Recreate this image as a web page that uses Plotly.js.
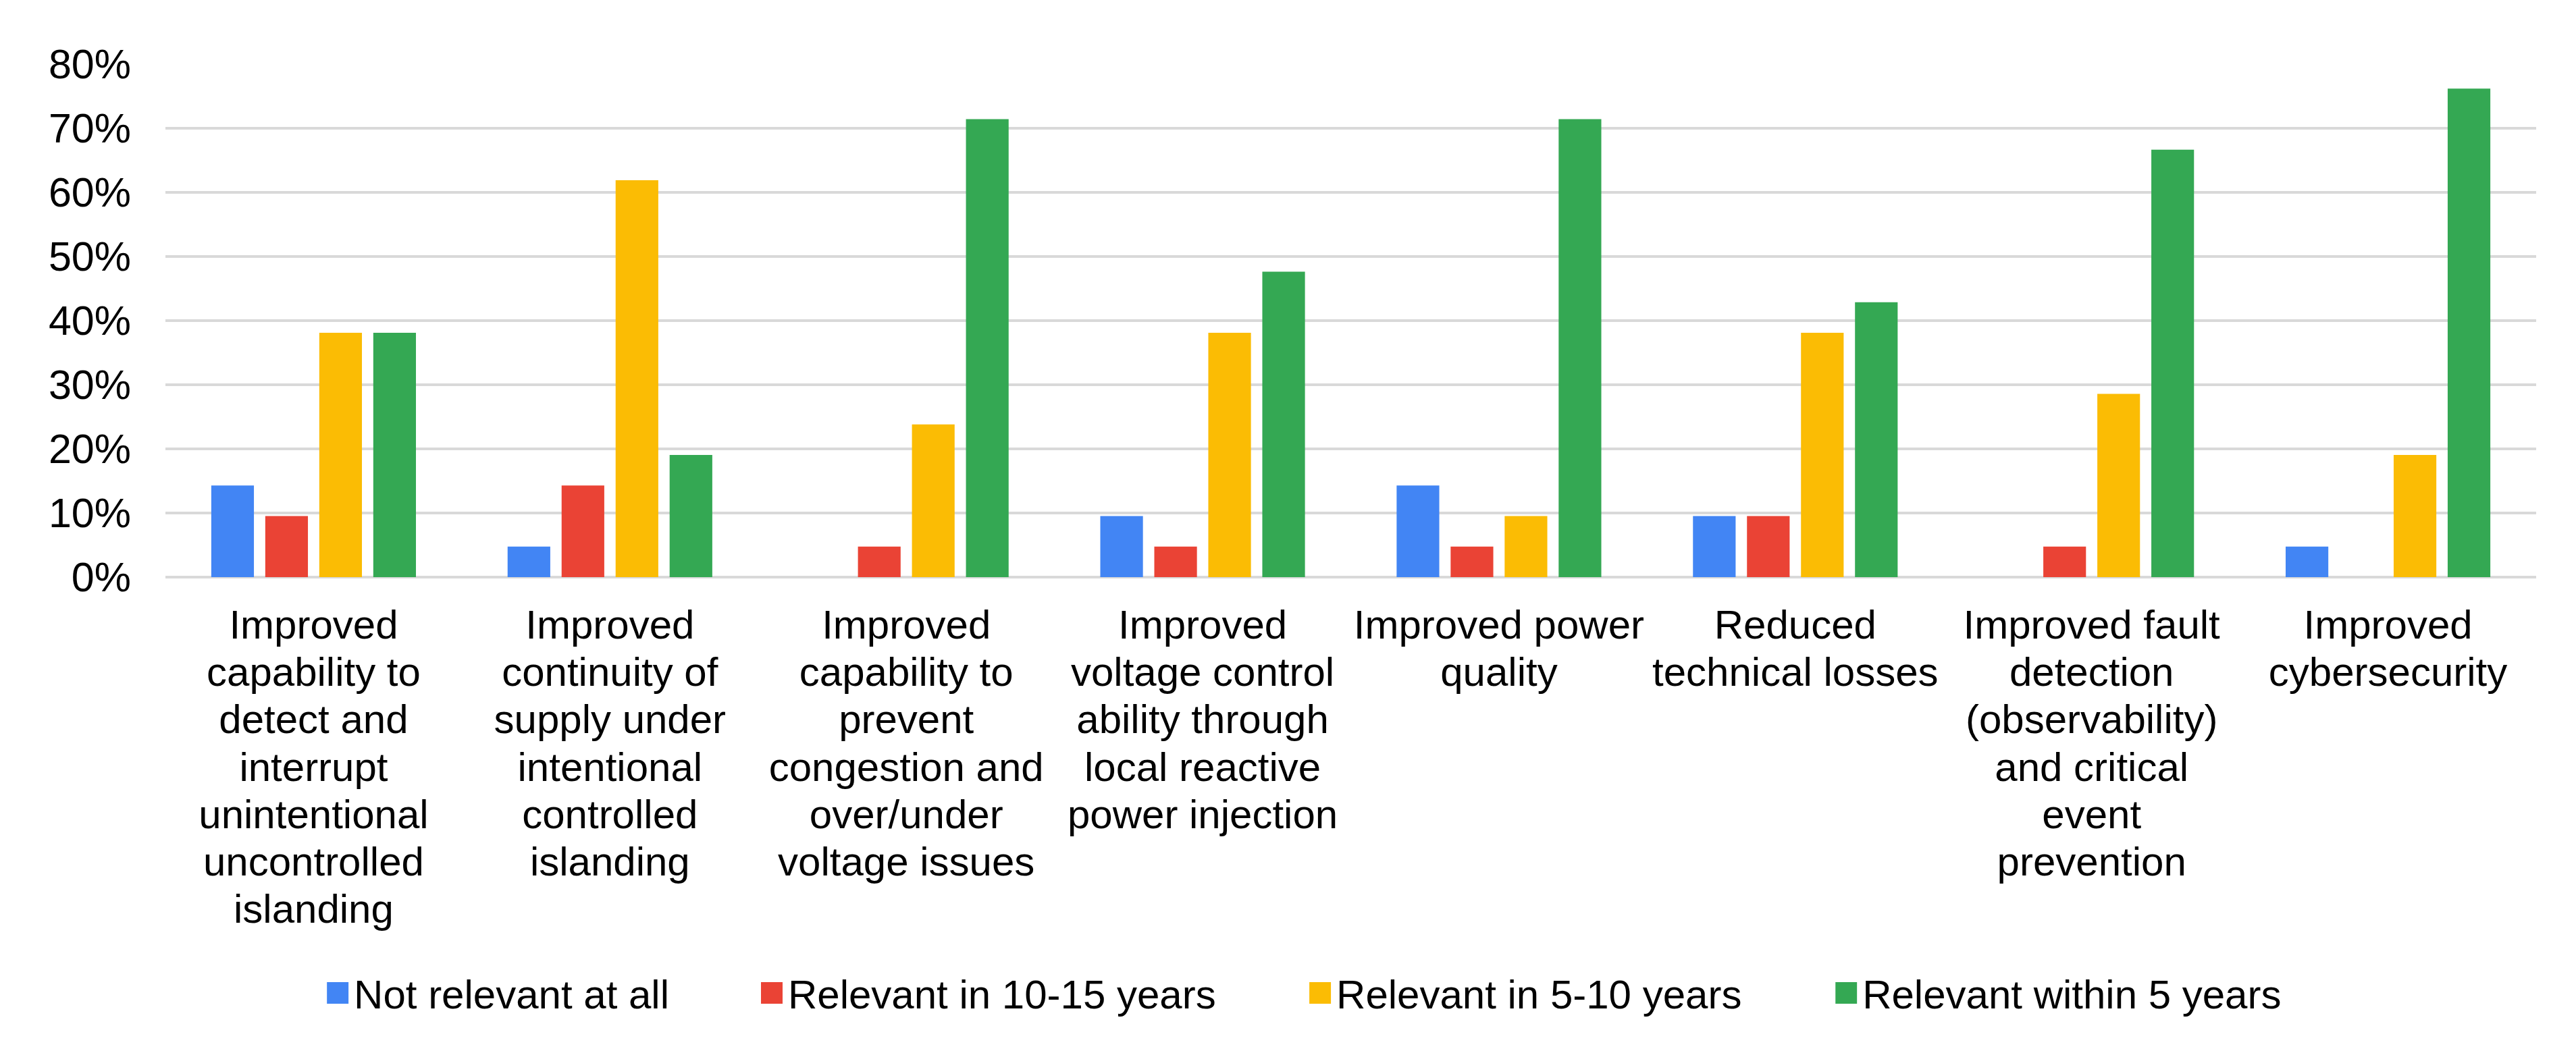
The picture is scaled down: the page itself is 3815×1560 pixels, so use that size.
<!DOCTYPE html>
<html>
<head>
<meta charset="utf-8">
<script src="https://cdn.plot.ly/plotly-3.0.1.min.js"></script>
<style>html,body{margin:0;padding:0;background:#fff;}#chart{width:3815px;height:1560px;}</style>
</head>
<body>
<div id="chart"></div>
<script>
const categories = [
  "Improved<br>capability to<br>detect and<br>interrupt<br>unintentional<br>uncontrolled<br>islanding",
  "Improved<br>continuity of<br>supply under<br>intentional<br>controlled<br>islanding",
  "Improved<br>capability to<br>prevent<br>congestion and<br>over/under<br>voltage issues",
  "Improved<br>voltage control<br>ability through<br>local reactive<br>power injection",
  "Improved power<br>quality",
  "Reduced<br>technical losses",
  "Improved fault<br>detection<br>(observability)<br>and critical<br>event<br>prevention",
  "Improved<br>cybersecurity"
];
const seriesNames = ["Not relevant at all", "Relevant in 10-15 years", "Relevant in 5-10 years", "Relevant within 5 years"];
const notRelevant   = [14.29, 4.76, 0, 9.52, 14.29, 9.52, 0, 4.76];
const relevant10_15 = [9.52, 14.29, 4.76, 4.76, 4.76, 9.52, 4.76, 0];
const relevant5_10  = [38.10, 61.90, 23.81, 38.10, 9.52, 38.10, 28.57, 19.05];
const within5       = [38.10, 19.05, 71.43, 47.62, 71.43, 42.86, 66.67, 76.19];
const yTickVals = [0, 10, 20, 30, 40, 50, 60, 70, 80];
const yTickText = yTickVals.map(v => v + "%");

const colors = ["#4285F4", "#EA4335", "#FBBC04", "#34A853"];
const values = [notRelevant, relevant10_15, relevant5_10, within5];
const legendIds = ["legend", "legend2", "legend3", "legend4"];
const legendX = [0.0681, 0.2512, 0.4825, 0.7044];

const traces = values.map((v, i) => ({
  type: "bar",
  name: seriesNames[i],
  x: categories,
  y: v,
  marker: {color: colors[i]},
  legend: legendIds[i],
  hoverinfo: "none"
}));

const font = {family: "Liberation Sans, Arial, sans-serif", color: "#000"};
const layout = {
  width: 3815, height: 1560,
  margin: {l: 245, r: 59, t: 95, b: 705},
  paper_bgcolor: "#fff", plot_bgcolor: "#fff",
  barmode: "group", bargap: 0.271, bargroupgap: 0.21,
  font: Object.assign({size: 60}, font),
  showlegend: true,
  xaxis: {
    type: "category", tickangle: 0, ticks: "", showgrid: false, showline: false,
    tickfont: Object.assign({size: 60}, font), ticklabelstandoff: 30, automargin: false
  },
  yaxis: {
    range: [0, 80], tickmode: "array", tickvals: yTickVals, ticktext: yTickText, ticks: "",
    showgrid: true, gridcolor: "#d9d9d9", gridwidth: 4,
    zeroline: true, zerolinecolor: "#d9d9d9", zerolinewidth: 4,
    showline: false, tickfont: Object.assign({size: 61}, font),
    ticklabelstandoff: 50, automargin: false
  }
};
legendIds.forEach((id, i) => {
  layout[id] = {
    orientation: "h", x: legendX[i], xanchor: "left", y: -0.8105, yanchor: "middle",
    font: Object.assign({size: 60}, font), bgcolor: "rgba(0,0,0,0)"
  };
});

Plotly.newPlot("chart", traces, layout, {displayModeBar: false, staticPlot: true}).then(() => {
  document.querySelectorAll(".legendpoints path").forEach(p => {
    const t = p.getAttribute("transform") || "";
    p.setAttribute("transform", t + " translate(-4,0) scale(2.67)");
  });
  document.querySelectorAll(".xtick text tspan.line").forEach(s => {
    const dy = s.getAttribute("dy");
    if (dy && dy.endsWith("em")) {
      const v = parseFloat(dy);
      if (!isNaN(v)) s.setAttribute("dy", (v * 0.9).toFixed(4) + "em");
    }
  });
});
</script>
</body>
</html>
